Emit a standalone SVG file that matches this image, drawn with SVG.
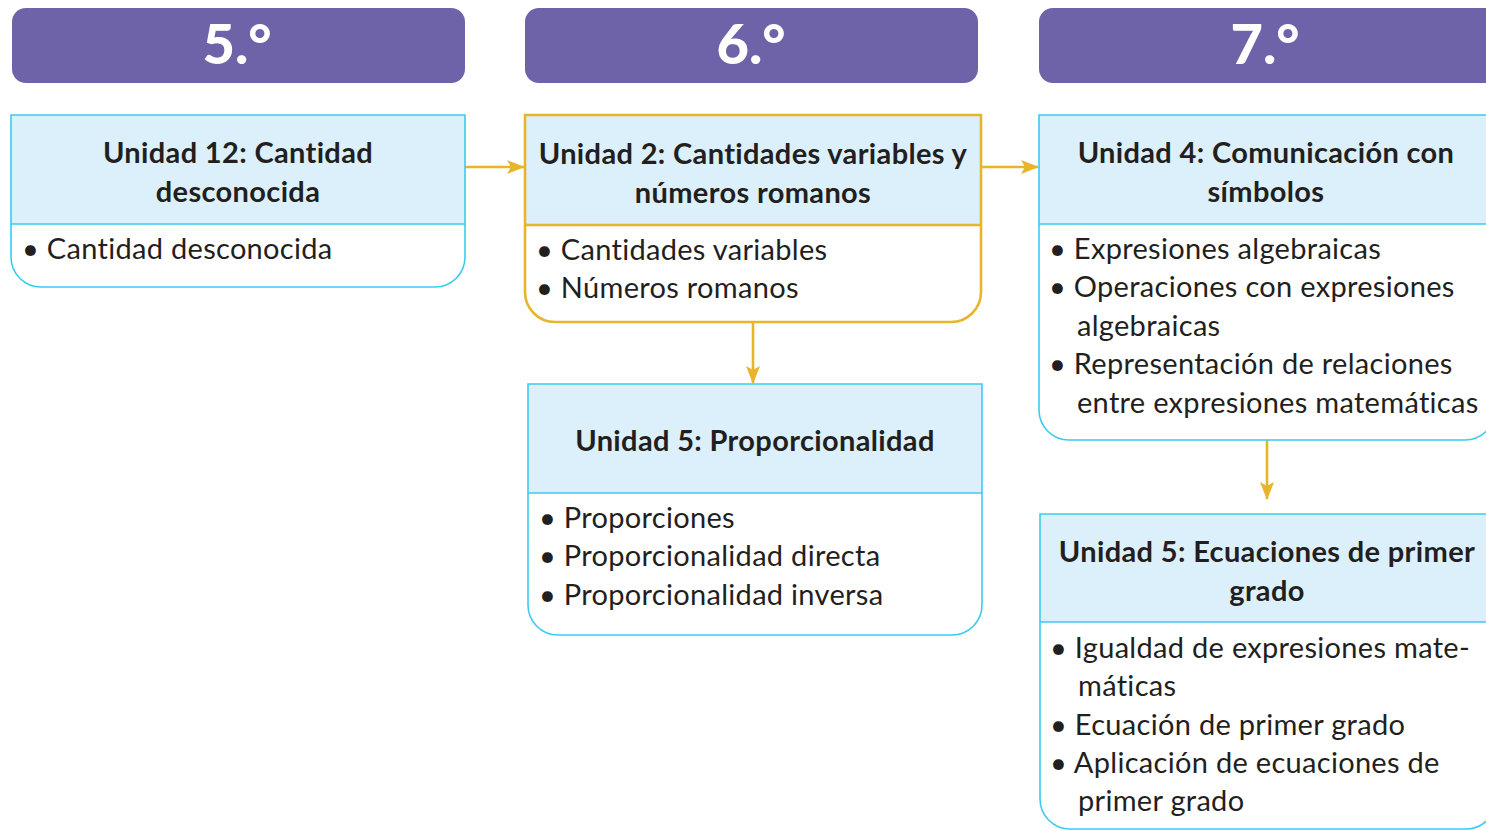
<svg xmlns="http://www.w3.org/2000/svg" width="1486" height="830" viewBox="0 0 1486 830">
<defs>
<style>
.hdr{fill:#6e62a8}
.hdrt{fill:#fff;font-family:Lato,"Open Sans",sans-serif;font-weight:900;font-size:56px;text-anchor:middle}
.head{fill:#dbf0fb}
.cy{fill:none;stroke:#3ccbf0;stroke-width:1.6}
.ye{fill:none;stroke:#e8b52a;stroke-width:2.6}
.t{font-family:Lato,"Open Sans",sans-serif;font-weight:700;font-size:29px;letter-spacing:0.35px;fill:#231f20;text-anchor:middle}
.b{font-family:Lato,"Open Sans",sans-serif;font-size:29px;letter-spacing:0.3px;fill:#231f20}
.con{stroke:#e8b52a;stroke-width:2.6;fill:none}
</style>
<marker id="ah" viewBox="0 0 18 14" refX="17" refY="7" markerWidth="18" markerHeight="14" markerUnits="userSpaceOnUse" orient="auto">
<path d="M0,0 L18,7 L0,14 L4,7 Z" fill="#e8b52a"/>
</marker>
</defs>
<rect width="1486" height="830" fill="#fff"/>

<g id="grade5">
<rect class="hdr" x="12" y="8" width="453" height="75" rx="14"/>
<text class="hdrt" x="237" y="64">5.°</text>
</g>
<g id="grade6">
<rect class="hdr" x="525" y="8" width="453" height="75" rx="14"/>
<text class="hdrt" x="751" y="64">6.°</text>
</g>
<g id="grade7">
<rect class="hdr" x="1039" y="8" width="460" height="75" rx="14"/>
<text class="hdrt" x="1265" y="64">7.°</text>
</g>

<g id="connectors">
<line class="con" x1="465" y1="167" x2="524" y2="167" marker-end="url(#ah)"/>
<line class="con" x1="981" y1="167" x2="1038" y2="167" marker-end="url(#ah)"/>
<line class="con" x1="753" y1="322" x2="753" y2="383" marker-end="url(#ah)"/>
<line class="con" x1="1267" y1="440" x2="1267" y2="499" marker-end="url(#ah)"/>
</g>

<g id="u12">
<rect class="head" x="11" y="115" width="454" height="109"/>
<path class="cy" d="M11,115 H465 V257 A30,30 0 0 1 435,287 H41 A30,30 0 0 1 11,257 Z"/>
<line class="cy" x1="11" y1="224" x2="465" y2="224"/>
<text class="t" x="238" y="163">Unidad 12: Cantidad</text>
<text class="t" x="238" y="202">desconocida</text>
<text class="b" x="22" y="259">• Cantidad desconocida</text>
</g>

<g id="u2">
<rect class="head" x="525" y="115" width="456" height="110"/>
<path class="ye" d="M525,115 H981 V292 A30,30 0 0 1 951,322 H555 A30,30 0 0 1 525,292 Z"/>
<line class="ye" x1="525" y1="225" x2="981" y2="225"/>
<text class="t" x="753" y="164">Unidad 2: Cantidades variables y</text>
<text class="t" x="753" y="203">números romanos</text>
<text class="b" x="536" y="260">• Cantidades variables</text>
<text class="b" x="536" y="298">• Números romanos</text>
</g>

<g id="u5p">
<rect class="head" x="528" y="384" width="454" height="109"/>
<path class="cy" d="M528,384 H982 V605 A30,30 0 0 1 952,635 H558 A30,30 0 0 1 528,605 Z"/>
<line class="cy" x1="528" y1="493" x2="982" y2="493"/>
<text class="t" x="755" y="451">Unidad 5: Proporcionalidad</text>
<text class="b" x="539" y="528">• Proporciones</text>
<text class="b" x="539" y="566">• Proporcionalidad directa</text>
<text class="b" x="539" y="605">• Proporcionalidad inversa</text>
</g>

<g id="u4">
<rect class="head" x="1039" y="115" width="456" height="109"/>
<path class="cy" d="M1039,115 H1495 V410 A30,30 0 0 1 1465,440 H1069 A30,30 0 0 1 1039,410 Z"/>
<line class="cy" x1="1039" y1="224" x2="1495" y2="224"/>
<text class="t" x="1266" y="163">Unidad 4: Comunicación con</text>
<text class="t" x="1266" y="202">símbolos</text>
<text class="b" x="1049" y="259">• Expresiones algebraicas</text>
<text class="b" x="1049" y="297">• Operaciones con expresiones</text>
<text class="b" x="1077" y="336">algebraicas</text>
<text class="b" x="1049" y="374">• Representación de relaciones</text>
<text class="b" x="1077" y="413">entre expresiones matemáticas</text>
</g>

<g id="u5e">
<rect class="head" x="1040" y="514" width="456" height="108"/>
<path class="cy" d="M1040,514 H1496 V799 A30,30 0 0 1 1466,829 H1070 A30,30 0 0 1 1040,799 Z"/>
<line class="cy" x1="1040" y1="622" x2="1496" y2="622"/>
<text class="t" x="1267" y="562">Unidad 5: Ecuaciones de primer</text>
<text class="t" x="1267" y="601">grado</text>
<text class="b" x="1050" y="658">• Igualdad de expresiones mate-</text>
<text class="b" x="1078" y="696">máticas</text>
<text class="b" x="1050" y="735">• Ecuación de primer grado</text>
<text class="b" x="1050" y="773">• Aplicación de ecuaciones de</text>
<text class="b" x="1078" y="811">primer grado</text>
</g>
</svg>
